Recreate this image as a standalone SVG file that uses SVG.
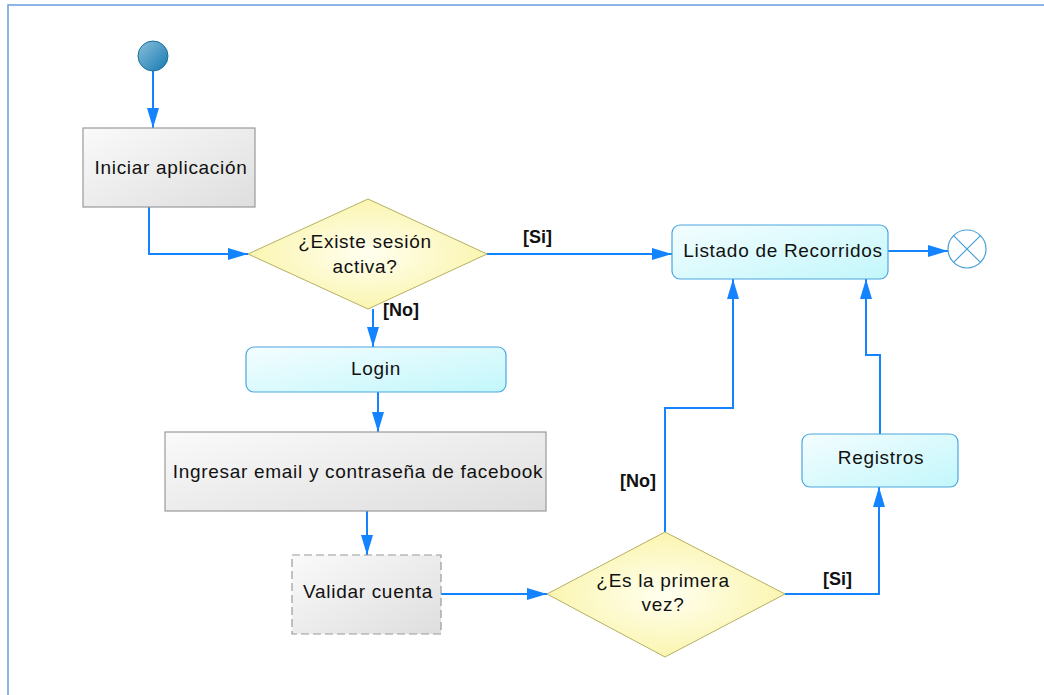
<svg xmlns="http://www.w3.org/2000/svg" width="1044" height="695" viewBox="0 0 1044 695">
<defs>
<linearGradient id="gray" x1="0" y1="0" x2="1" y2="1"><stop offset="0" stop-color="#fafafa"/><stop offset="1" stop-color="#dedede"/></linearGradient>
<linearGradient id="cyan" x1="0" y1="0" x2="1" y2="1"><stop offset="0" stop-color="#f4fdff"/><stop offset="1" stop-color="#c2f7fb"/></linearGradient>
<radialGradient id="yellow" cx="0.5" cy="0.5" r="0.5"><stop offset="0" stop-color="#fffff0"/><stop offset="1" stop-color="#fbf5b0"/></radialGradient>
<linearGradient id="start" x1="0" y1="0" x2="1" y2="1"><stop offset="0" stop-color="#8cc0dc"/><stop offset="1" stop-color="#1479b0"/></linearGradient>
<marker id="arr" viewBox="0 0 20 12" refX="20" refY="6" markerWidth="20" markerHeight="12" markerUnits="userSpaceOnUse" orient="auto">
<path d="M0,0 L20,6 L0,12 Z" fill="#1383ff"/>
</marker>
<style>
.t{font-family:"Liberation Sans",Arial,sans-serif;font-size:19px;letter-spacing:0.7px;fill:#111;text-anchor:middle}
.lb{font-family:"Liberation Sans",Arial,sans-serif;font-size:18px;font-weight:bold;fill:#111}
.c{fill:none;stroke:#1383ff;stroke-width:2}
.box{fill:url(#gray);stroke:#9a9a9a;stroke-width:1.2}
.rbox{fill:url(#cyan);stroke:#4aa6e0;stroke-width:1.2}
.dia{fill:url(#yellow);stroke:#b5b060;stroke-width:1}
</style>
</defs>
<rect width="1044" height="695" fill="#fff"/>
<rect x="8" y="5" width="1060" height="720" fill="none" stroke="#6a9be0" stroke-width="1.5"/>
<g id="connectors">
<path class="c" d="M153,71 V128" marker-end="url(#arr)"/>
<path class="c" d="M149,207 V254 H248" marker-end="url(#arr)"/>
<path class="c" d="M487,254 H672" marker-end="url(#arr)"/>
<path class="c" d="M373,309 V347" marker-end="url(#arr)"/>
<path class="c" d="M378,392 V432" marker-end="url(#arr)"/>
<path class="c" d="M367,511 V555" marker-end="url(#arr)"/>
<path class="c" d="M441,594 H547" marker-end="url(#arr)"/>
<path class="c" d="M665,532 V408 H733 V279" marker-end="url(#arr)"/>
<path class="c" d="M785,594 H879 V487" marker-end="url(#arr)"/>
<path class="c" d="M880,434 V355 H866 V279" marker-end="url(#arr)"/>
<path class="c" d="M888,251 H948" marker-end="url(#arr)"/>
<text class="lb" x="523" y="243">[Si]</text>
<text class="lb" x="383" y="316">[No]</text>
<text class="lb" x="620" y="487">[No]</text>
<text class="lb" x="823" y="585">[Si]</text>
</g>
<g id="start"><circle cx="153" cy="56" r="15" fill="url(#start)" stroke="#1a6f9c" stroke-width="1"/></g>
<g id="iniciar"><rect class="box" x="83" y="128" width="172" height="79"/><text class="t" x="171" y="174">Iniciar aplicación</text></g>
<g id="existe"><polygon class="dia" points="368,199 487,254 368,309 248,254"/><text class="t" x="365" y="248">¿Existe sesión</text><text class="t" x="365" y="273">activa?</text></g>
<g id="login"><rect class="rbox" x="246" y="347" width="260" height="45" rx="8"/><text class="t" x="376" y="375">Login</text></g>
<g id="ingresar"><rect class="box" x="165" y="432" width="381" height="79"/><text class="t" x="358" y="478">Ingresar email y contraseña de facebook</text></g>
<g id="validar"><rect class="box" x="292" y="555" width="149" height="79" stroke-dasharray="8,4"/><text class="t" x="368" y="598">Validar cuenta</text></g>
<g id="primera"><polygon class="dia" points="665,532 785,594 665,657 547,594"/><text class="t" x="663" y="587">¿Es la primera</text><text class="t" x="663" y="611">vez?</text></g>
<g id="registros"><rect class="rbox" x="802" y="434" width="156" height="53" rx="8"/><text class="t" x="881" y="464">Registros</text></g>
<g id="listado"><rect class="rbox" x="672" y="225" width="216" height="54" rx="8"/><text class="t" x="783" y="257">Listado de Recorridos</text></g>
<g id="end"><circle cx="967" cy="249" r="19" fill="#fff" stroke="#4aa0d8" stroke-width="1.2"/><path d="M953.6,235.6 L980.4,262.4 M980.4,235.6 L953.6,262.4" stroke="#4aa0d8" stroke-width="1.2"/></g>
</svg>
